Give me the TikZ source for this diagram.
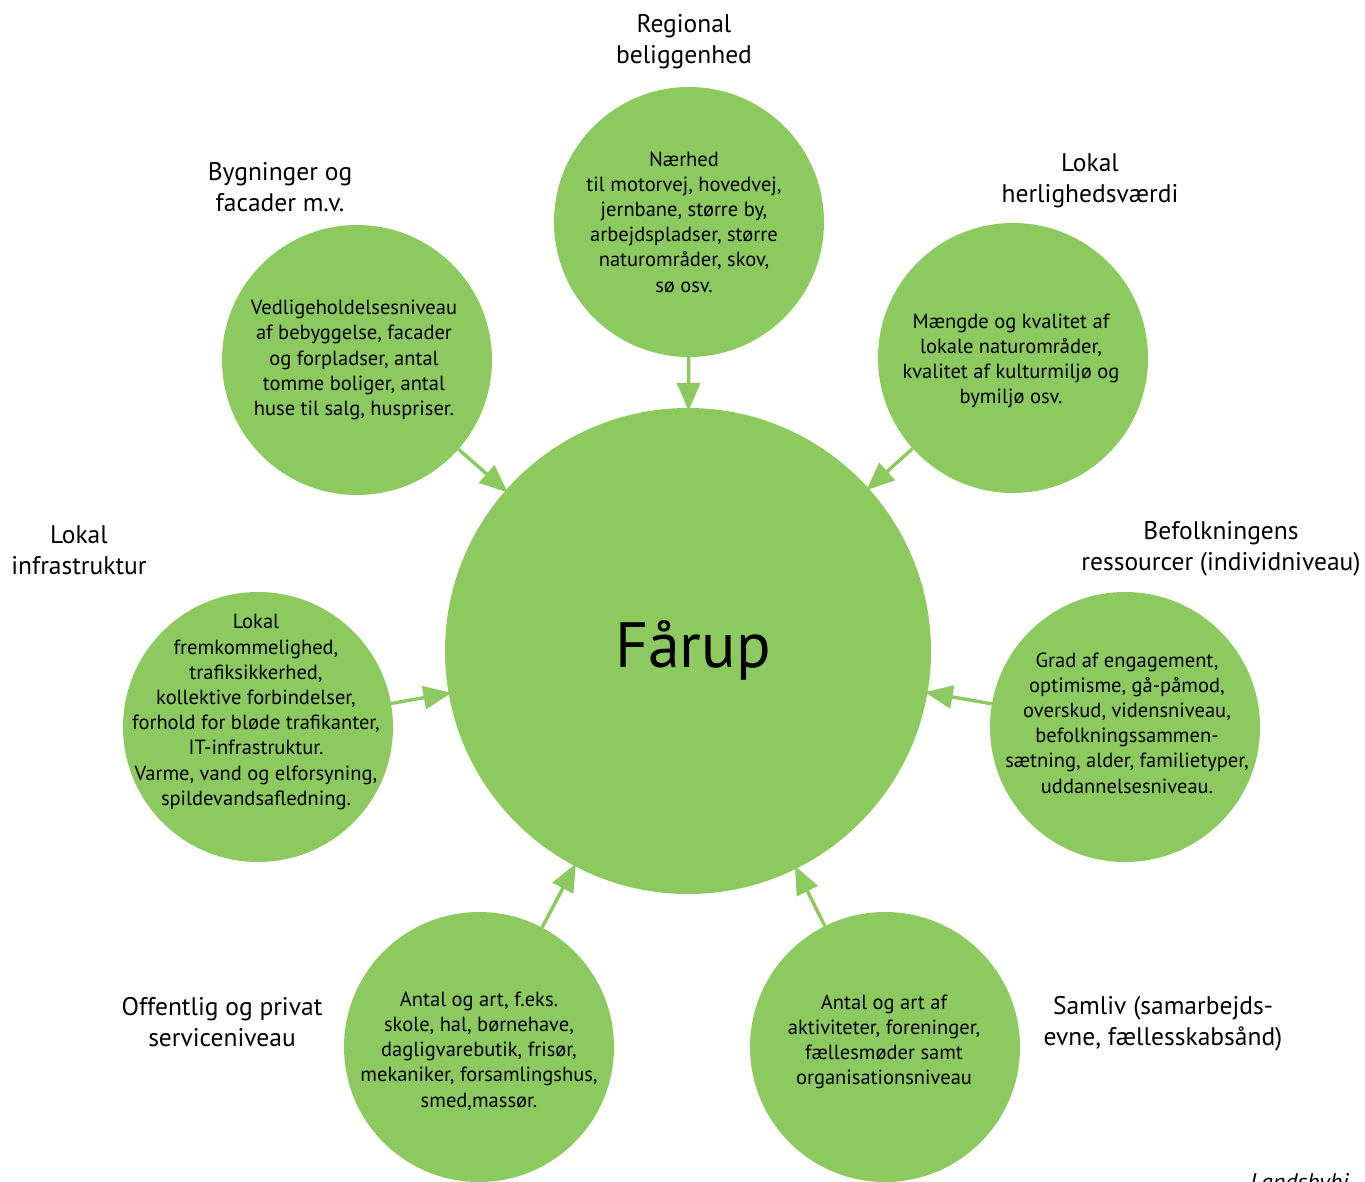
\documentclass[tikz,border=0pt]{standalone}
\usepackage{fontspec}
\setmainfont{PT Sans}
\usetikzlibrary{arrows.meta}
\definecolor{leaf}{RGB}{140,201,95}
\tikzset{
  bub/.style={circle, fill=leaf, minimum size=270pt, inner sep=0pt},
  big/.style={circle, fill=leaf, minimum size=486pt, inner sep=0pt},
  intxt/.style={align=center, font=\fontsize{20.5}{25.2}\selectfont, text=black},
  outtxt/.style={align=center, font=\fontsize{25.5}{31}\selectfont, text=black},
  conn/.style={draw=leaf, line width=3.4pt, -{Triangle[length=28pt,width=23pt]}, shorten >=-3pt},
}
\begin{document}
\begin{tikzpicture}[x=1pt,y=-1pt]
\useasboundingbox (0,0) rectangle (1365,1182);
% circles
\node[big] (far) at (688,651) {};
\node[bub] (reg) at (689,222) {};
\node[bub] (byg) at (357,360) {};
\node[bub] (her) at (1013,358) {};
\node[bub] (inf) at (258,727) {};
\node[bub] (bef) at (1125,727) {};
\node[bub] (off) at (479,1047) {};
\node[bub] (sam) at (885,1047) {};
% inner texts
\node[font=\fontsize{64}{70}\selectfont] (fart) at (693,650) {Fårup};
\node[intxt] (regt) at (684,222) {Nærhed\\til motorvej, hovedvej,\\jernbane, større by,\\arbejdspladser, større\\naturområder, skov,\\sø osv.};
\node[intxt] (bygt) at (354,360) {Vedligeholdelsesniveau\\af bebyggelse, facader\\og forpladser, antal\\tomme boliger, antal\\huse til salg, huspriser.};
\node[intxt] (hert) at (1011,361) {Mængde og kvalitet af\\lokale naturområder,\\kvalitet af kulturmiljø og\\bymiljø osv.};
\node[intxt] (inft) at (256,712) {Lokal\\fremkommelighed,\\trafiksikkerhed,\\kollektive forbindelser,\\forhold for bløde trafikanter,\\IT-infrastruktur.\\Varme, vand og elforsyning,\\spildevandsafledning.};
\node[intxt] (beft) at (1127,723) {Grad af engagement,\\optimisme, gå-påmod,\\overskud, vidensniveau,\\befolkningssammen-\\sætning, alder, familietyper,\\uddannelsesniveau.};
\node[intxt] (offt) at (479,1051) {Antal og art, f.eks.\\skole, hal, børnehave,\\dagligvarebutik, frisør,\\mekaniker, forsamlingshus,\\smed,massør.};
\node[intxt] (samt) at (884,1042) {Antal og art af\\aktiviteter, foreninger,\\fællesmøder samt\\organisationsniveau};
% outer labels
\node[outtxt] (regl) at (684,42) {Regional\\beliggenhed};
\node[outtxt] (bygl) at (280,187) {Bygninger og\\facader m.v.};
\node[outtxt] (herl) at (1090,181) {Lokal\\herlighedsværdi};
\node[outtxt] (infl) at (79,550) {Lokal\\infrastruktur};
\node[outtxt] (befl) at (1221,549) {Befolkningens\\ressourcer (individniveau)};
\node[outtxt] (offl) at (222,1022) {Offentlig og privat\\serviceniveau};
\node[outtxt] (saml) at (1163,1024) {Samliv (samarbejds-\\evne, fællesskabsånd)};
\node[font=\fontsize{24}{28}\selectfont\itshape, anchor=base west, inner sep=0pt] (src) at (1250,1190) {Landsbybi};
% connectors
\draw[conn] (reg) -- (far);
\draw[conn] (byg) -- (far);
\draw[conn] (her) -- (far);
\draw[conn] (inf) -- (far);
\draw[conn] (bef) -- (far);
\draw[conn] (off) -- (far);
\draw[conn] (sam) -- (far);
\end{tikzpicture}
\end{document}
